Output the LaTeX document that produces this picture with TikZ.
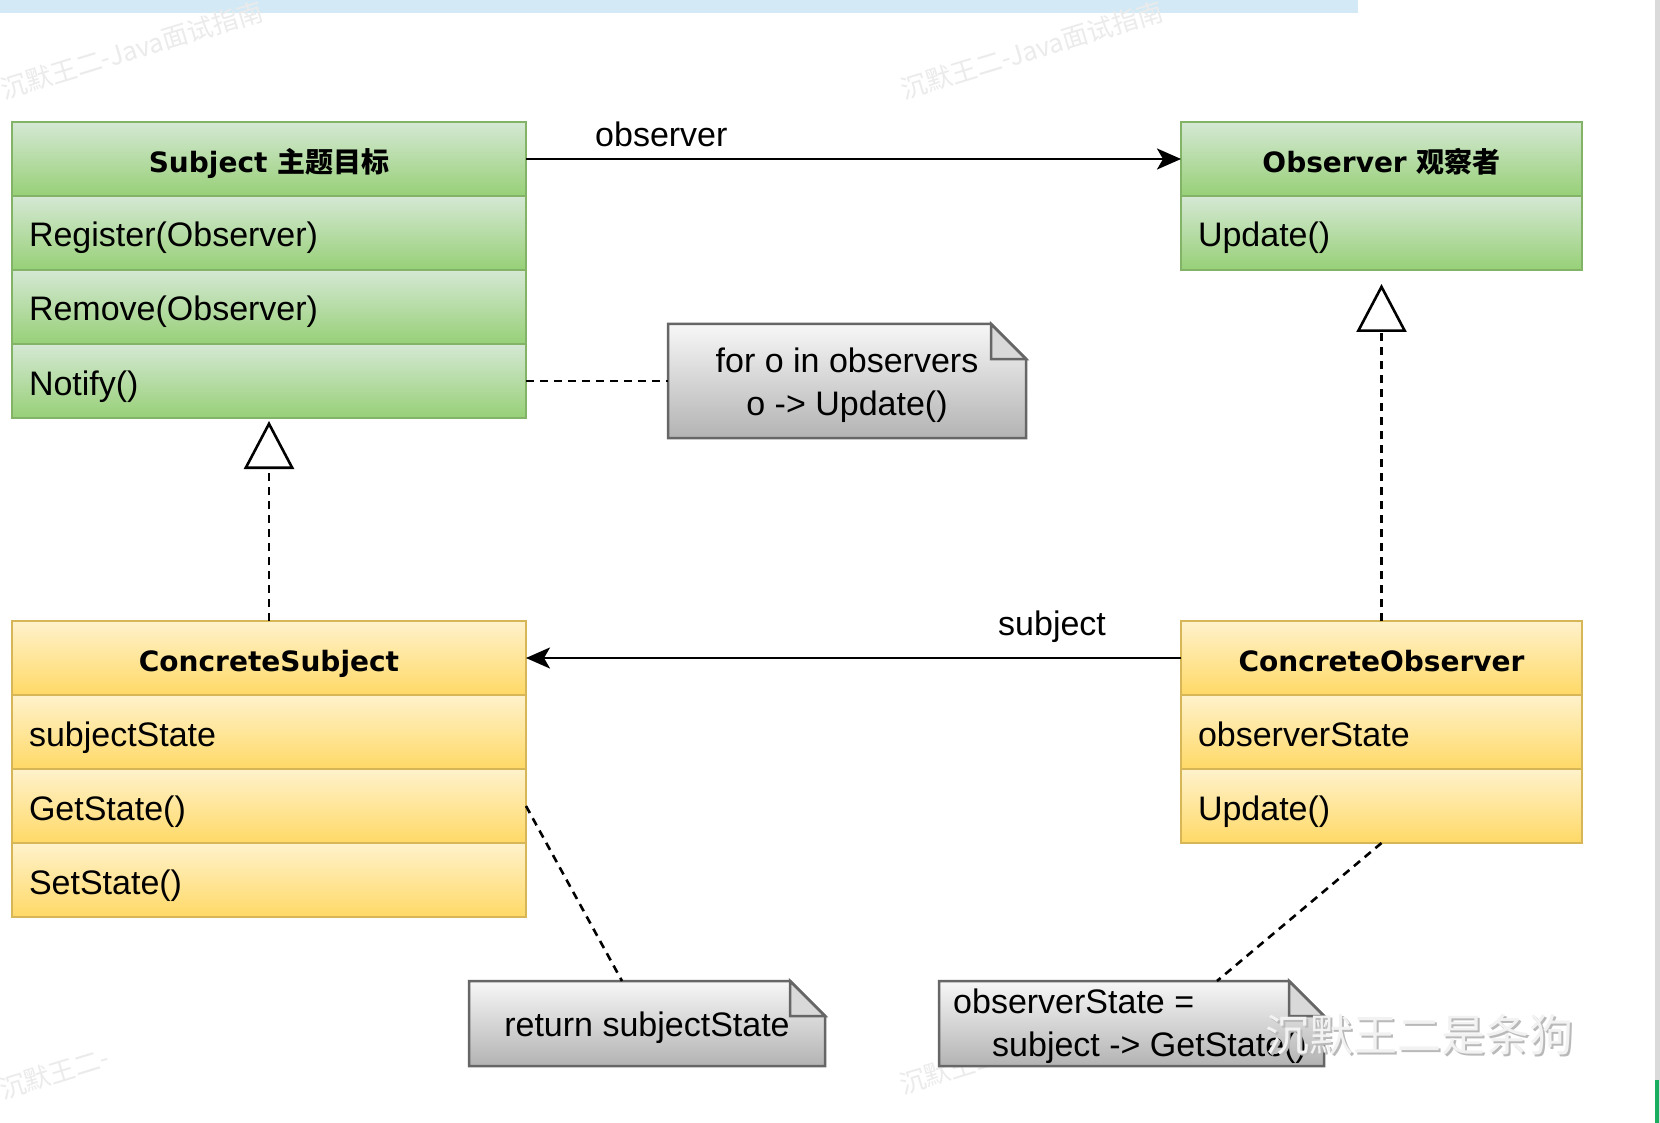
\documentclass[tikz,border=0pt]{standalone}
\usepackage{fontspec}
\setmainfont{Liberation Sans}
\newfontfamily\hdrfont{DejaVu Sans}
\newfontfamily\cjk{Noto Sans CJK SC}
\usetikzlibrary{arrows.meta,calc}

\definecolor{greenTop}{HTML}{D5E8D4}
\definecolor{greenBot}{HTML}{97D077}
\definecolor{greenLine}{HTML}{82B366}
\definecolor{yelTop}{HTML}{FFF2CC}
\definecolor{yelBot}{HTML}{FFD966}
\definecolor{yelLine}{HTML}{D6B656}
\definecolor{noteTop}{HTML}{F7F7F7}
\definecolor{noteBot}{HTML}{B3B3B3}
\definecolor{noteLine}{HTML}{666666}
\definecolor{noteFold}{HTML}{D9D9D9}
\definecolor{bandBlue}{HTML}{D3EAF6}
\definecolor{wmGray}{HTML}{EBEBEB}
\definecolor{edgeGray}{HTML}{DADADA}
\definecolor{barGreen}{HTML}{1AAD5F}

\pgfdeclarelayer{wmlayer}
\pgfdeclarelayer{notelayer}
\pgfsetlayers{wmlayer,notelayer,main}

\begin{document}
\begin{tikzpicture}[x=1pt, y=-1pt,
  row/.style={line width=2.5pt, minimum height=74pt, inner ysep=0pt, outer sep=0pt},
  greenrow/.style={row, draw=greenLine, top color=greenTop, bottom color=greenBot},
  yellowrow/.style={row, draw=yelLine, top color=yelTop, bottom color=yelBot},
  hdr/.style={font=\hdrfont\bfseries\fontsize{28}{34}\selectfont, inner xsep=0pt,
    text height=30pt, text depth=3pt},
  memb/.style={font=\fontsize{34}{41}\selectfont, align=left, inner xsep=17pt,
    text height=32pt, text depth=4pt},
  noteframe/.style={inner sep=0pt, outer sep=0pt, minimum height=85pt},
  notetext/.style={font=\fontsize{34}{43}\selectfont, inner sep=0pt},
  notebody/.style={draw=noteLine, line width=2.5pt, top color=noteTop, bottom color=noteBot, line join=miter},
  notefold/.style={draw=noteLine, line width=2.5pt, fill=noteFold, line join=miter},
  lbl/.style={font=\fontsize{34}{41}\selectfont, inner sep=0pt},
  assoc/.style={draw, line width=2.6pt, -{Stealth[length=24pt, width=21pt, inset=6pt]}},
  dashline/.style={draw, line width=2.6pt, dash pattern=on 8pt off 6pt},
  gen/.style={dashline, -{Triangle[open, length=48pt, width=50pt]}},
  wm/.style={font=\cjk\fontsize{26}{30}\selectfont, text=wmGray, inner sep=0pt}
]
\useasboundingbox (0,0) rectangle (1660,1123);

% page background, top band, faint watermarks
\begin{pgfonlayer}{wmlayer}
  \fill[white] (0,0) rectangle (1660,1123);
  \fill[bandBlue] (0,0) rectangle (1358,13);
  \fill[edgeGray] (1655,0) rectangle (1660,1123);
  \fill[barGreen] (1655,1080) rectangle (1659,1123);
  \node[wm, rotate=17] (wmA) at (132,50) {沉默王二-Java面试指南};
  \node[wm, rotate=17] (wmB) at (1032,50) {沉默王二-Java面试指南};
  \node[wm, rotate=17, anchor=west] (wmC) at (0,1090) {沉默王二-};
  \node[wm, rotate=17, anchor=west] (wmD) at (900,1085) {沉默王二-};
\end{pgfonlayer}

% Subject
\node[greenrow, hdr, minimum width=514pt] (subjHead) at (269,159)
  {Subject {\cjk\bfseries 主题目标}};
\node[greenrow, memb, text width=480pt] (subjReg) at (269,233) {Register(Observer)};
\node[greenrow, memb, text width=480pt] (subjRem) at (269,307) {Remove(Observer)};
\node[greenrow, memb, text width=480pt] (subjNotify) at (269,381) {Notify()};

% Observer
\node[greenrow, hdr, minimum width=401pt] (obsHead) at (1381.5,159)
  {Observer {\cjk\bfseries 观察者}};
\node[greenrow, memb, text width=367pt] (obsUpd) at (1381.5,233) {Update()};

% ConcreteSubject
\node[yellowrow, hdr, minimum width=514pt] (csubjHead) at (269,658) {ConcreteSubject};
\node[yellowrow, memb, text width=480pt] (csubjState) at (269,732) {subjectState};
\node[yellowrow, memb, text width=480pt] (csubjGet) at (269,806) {GetState()};
\node[yellowrow, memb, text width=480pt] (csubjSet) at (269,880) {SetState()};

% ConcreteObserver
\node[yellowrow, hdr, minimum width=401pt] (cobsHead) at (1381.5,658) {ConcreteObserver};
\node[yellowrow, memb, text width=367pt] (cobsState) at (1381.5,732) {observerState};
\node[yellowrow, memb, text width=367pt] (cobsUpd) at (1381.5,806) {Update()};

% notes: frames and their texts
\node[noteframe, minimum width=358pt, minimum height=114pt] (note1) at (847,381) {};
\node[noteframe, minimum width=356pt] (note2) at (647,1023.5) {};
\node[noteframe, minimum width=385pt] (note3) at (1131.5,1023.5) {};

\node[notetext, align=center] (note1text) at ($(note1.center)+(0,4)$)
  {for o in observers\\o -> Update()};
\node[notetext] (note2text) at ($(note2.center)+(0,4)$) {return subjectState};
\node[notetext, align=left, anchor=west] (note3text) at ($(note3.west)+(14,3)$)
  {observerState =\\\hspace*{39pt}subject -> GetState()};

\begin{pgfonlayer}{notelayer}
  \foreach \n in {note1,note2,note3} {
    \path[notebody] (\n.north west) -- ($(\n.north east)+(-35,0)$) -- ($(\n.north east)+(0,35)$)
      -- (\n.south east) -- (\n.south west) -- cycle;
    \path[notefold] ($(\n.north east)+(-35,0)$) -- ($(\n.north east)+(-35,35)$)
      -- ($(\n.north east)+(0,35)$) -- cycle;
  }
\end{pgfonlayer}

% associations
\draw[assoc] (subjHead.east) -- (obsHead.west);
\node[lbl, anchor=west] (lblObserver) at (595,134) {observer};
\draw[assoc] (cobsHead.west) -- (csubjHead.east);
\node[lbl, anchor=west] (lblSubject) at (998,627) {subject};

% generalizations
\coordinate (subjTip) at (269,421);
\coordinate (obsTip) at (1381.5,284);
\draw[gen] (csubjHead.north) -- (subjTip);
\draw[gen] (cobsHead.north) -- (obsTip);

% note links
\draw[dashline] (subjNotify.east) -- (note1.west);
\draw[dashline] (csubjGet.east) -- ($(note2.north west)+(153,0)$);
\draw[dashline] (cobsUpd.south) -- ($(note3.north west)+(278,0)$);

% signature mark
\node[font=\cjk\fontsize{44}{50}\selectfont, text=gray!55, inner sep=0pt, anchor=west] (signShadow) at (1267,1037) {沉默王二是条狗};
\node[font=\cjk\fontsize{44}{50}\selectfont, text=gray!10, inner sep=0pt, anchor=west] (sign) at (1265,1035) {沉默王二是条狗};
\end{tikzpicture}
\end{document}
